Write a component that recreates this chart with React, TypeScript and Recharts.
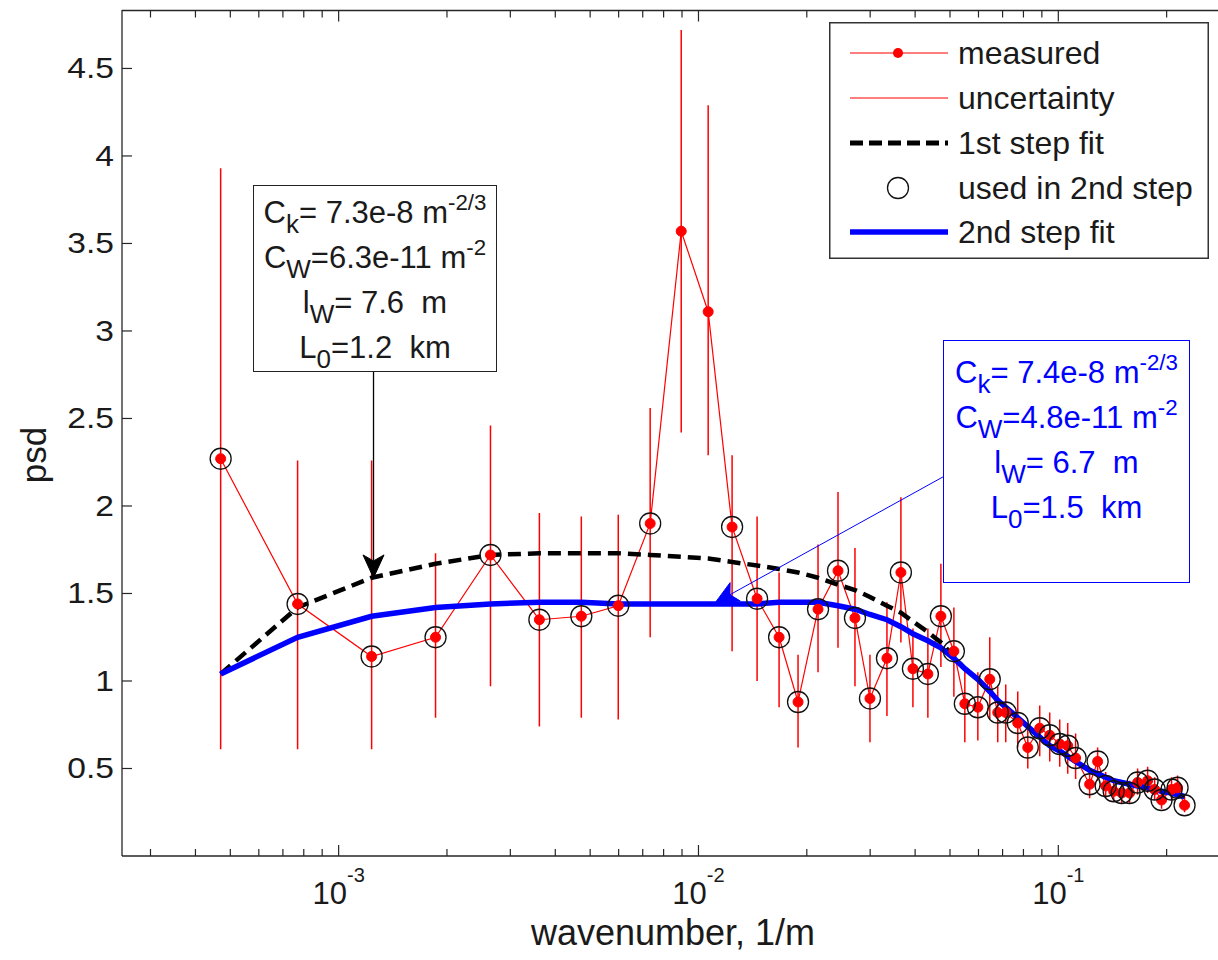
import React from 'react';
import { ComposedChart, Line, XAxis, YAxis, ErrorBar, ReferenceLine, Legend, Label } from 'recharts';

const FONT = '"Liberation Sans", Arial, Helvetica, sans-serif';

// ---- data ----
const wavenumber = [
  4.70e-4, 7.69e-4, 1.235e-3, 1.859e-3, 2.642e-3, 3.613e-3, 4.725e-3, 5.985e-3, 7.341e-3, 8.954e-3,
  1.064e-2, 1.240e-2, 1.455e-2, 1.675e-2, 1.891e-2, 2.149e-2, 2.442e-2, 2.722e-2, 2.996e-2, 3.340e-2,
  3.652e-2, 3.944e-2, 4.340e-2, 4.717e-2, 5.126e-2, 5.498e-2, 5.975e-2, 6.449e-2, 6.787e-2, 7.143e-2,
  7.714e-2, 8.225e-2, 8.878e-2, 9.465e-2, 0.1009, 0.1062, 0.1117, 0.1222, 0.1286, 0.1354,
  0.1425, 0.1500, 0.1578, 0.1661, 0.1771, 0.1852, 0.1936, 0.2064, 0.2145, 0.2243,
];
const psdMeasured = [
  2.27, 1.44, 1.14, 1.25, 1.72, 1.35, 1.37, 1.43, 1.90, 3.57,
  3.11, 1.88, 1.47, 1.25, 0.88, 1.41, 1.63, 1.36, 0.90, 1.13,
  1.62, 1.07, 1.04, 1.37, 1.17, 0.87, 0.85, 1.01, 0.82, 0.82,
  0.76, 0.62, 0.73, 0.69, 0.64, 0.63, 0.56, 0.41, 0.54, 0.40,
  0.37, 0.36, 0.36, 0.42, 0.43, 0.38, 0.32, 0.38, 0.39, 0.29,
];
const psdLower = [
  0.61, 0.61, 0.61, 0.79, 0.97, 0.74, 0.79, 0.78, 1.25, 2.42,
  2.29, 1.17, 1.00, 0.85, 0.62, 1.05, 1.19, 0.97, 0.65, 0.80,
  1.22, 0.85, 0.79, 1.08, 0.91, 0.65, 0.66, 0.78, 0.65, 0.65,
  0.62, 0.50, 0.57, 0.54, 0.51, 0.47, 0.44, 0.33, 0.43, 0.33,
  0.31, 0.30, 0.30, 0.35, 0.36, 0.32, 0.27, 0.32, 0.33, 0.25,
];
const psdUpper = [
  3.93, 2.26, 2.26, 1.73, 2.46, 1.96, 1.94, 1.95, 2.56, 4.72,
  4.29, 2.29, 1.94, 1.62, 1.15, 1.78, 2.08, 1.76, 1.15, 1.45,
  2.05, 1.30, 1.30, 1.67, 1.42, 1.06, 1.05, 1.25, 0.97, 0.98,
  0.94, 0.75, 0.86, 0.82, 0.78, 0.76, 0.70, 0.50, 0.62, 0.48,
  0.44, 0.43, 0.43, 0.50, 0.51, 0.45, 0.38, 0.45, 0.46, 0.34,
];
const fitStep1 = [
  1.04, 1.42, 1.59, 1.67, 1.72, 1.73, 1.73, 1.73, 1.72, 1.71,
  1.70, 1.68, 1.66, 1.64, 1.62, 1.59, 1.55, 1.52, 1.48, 1.43,
  1.39, 1.34, 1.28, 1.22, 1.14, 1.07, 1.01, 0.94, 0.89, 0.85,
  0.79, 0.74, 0.68, 0.63, 0.60, 0.57, 0.54, 0.49, 0.47, 0.45,
  0.43, 0.42, 0.41, 0.40, 0.39, 0.38, 0.37, 0.36, 0.35, 0.34,
];
const fitStep2 = [
  1.04, 1.25, 1.37, 1.42, 1.44, 1.45, 1.45, 1.44, 1.44, 1.44,
  1.44, 1.44, 1.44, 1.45, 1.45, 1.45, 1.43, 1.41, 1.38, 1.35,
  1.31, 1.27, 1.23, 1.19, 1.13, 1.07, 1.01, 0.94, 0.89, 0.85,
  0.79, 0.74, 0.68, 0.63, 0.60, 0.57, 0.54, 0.49, 0.47, 0.45,
  0.43, 0.42, 0.41, 0.40, 0.39, 0.38, 0.37, 0.36, 0.35, 0.34,
];
const excludedFromStep2 = [9, 10];

const xMajorTicks = [1e-3, 1e-2, 1e-1];
const xMinorTicks = [
  3e-4, 4e-4, 5e-4, 6e-4, 7e-4, 8e-4, 9e-4,
  2e-3, 3e-3, 4e-3, 5e-3, 6e-3, 7e-3, 8e-3, 9e-3,
  2e-2, 3e-2, 4e-2, 5e-2, 6e-2, 7e-2, 8e-2, 9e-2,
  2e-1, 3e-1,
];
const yTicks = [0.5, 1, 1.5, 2, 2.5, 3, 3.5, 4, 4.5];
const X_DOMAIN = [2.5e-4, 0.3];
const Y_DOMAIN = [0, 4.834];

// annotation arrows (data coordinates: [start, tip])
const arrowStep1 = [{ x: 1.25e-3, y: 2.766 }, { x: 1.25e-3, y: 1.589 }];
const arrowStep2 = [{ x: 0.0478, y: 2.166 }, { x: 0.01112, y: 1.446 }];

// axes box (pixels) — chart margins are derived from these
const BOX_LEFT = 122;
const BOX_TOP = 10;
const BOX_RIGHT = 1230;
const CHART_W = 1232;

const data = wavenumber.map((k, i) => ({
  k,
  psd: psdMeasured[i],
  err: [psdMeasured[i] - psdLower[i], psdUpper[i] - psdMeasured[i]],
  fit1: fitStep1[i],
  fit2: fitStep2[i],
  used: excludedFromStep2.includes(i) ? null : psdMeasured[i],
}));

const allXTicks = [...xMinorTicks, ...xMajorTicks].sort((a, b) => a - b);
const isMajor = (v: number) => Math.abs(Math.log10(v) - Math.round(Math.log10(v))) < 1e-6;
const AXIS = '#262626';

const BottomTick = (props: any) => {
  const { x, y, payload } = props;
  const v = payload.value;
  const major = isMajor(v);
  return (
    <g>
      <line x1={x} y1={y} x2={x} y2={y - (major ? 11 : 7)} stroke={AXIS} strokeWidth={1.2} />
      {major && (
        <text x={x} y={y + 48} textAnchor="middle" fontFamily={FONT} fontSize={31} fill="#1a1a1a">
          10
          <tspan dy={-22} fontSize={20}>{String(Math.round(Math.log10(v)))}</tspan>
        </text>
      )}
    </g>
  );
};
const LeftTick = (props: any) => {
  const { x, y, payload } = props;
  return (
    <g>
      <line x1={x} y1={y} x2={x + 10} y2={y} stroke={AXIS} strokeWidth={1.2} />
      <text
        x={0} y={0} textAnchor="end" fontFamily={FONT} fontSize={30} fill="#1a1a1a"
        transform={`translate(${x - 8},${y + 10}) scale(1.12,1)`}
      >
        {String(payload.value)}
      </text>
    </g>
  );
};

// top edge of the axes box with mirrored inward ticks (same log mapping as the x axis)
const TopFrame = () => {
  const l0 = Math.log10(X_DOMAIN[0]);
  const l1 = Math.log10(X_DOMAIN[1]);
  const px = (v: number) => BOX_LEFT + ((Math.log10(v) - l0) / (l1 - l0)) * (BOX_RIGHT - BOX_LEFT);
  const y = BOX_TOP + 0.5;
  return (
    <svg width={1218} height={960} style={{ position: 'absolute', left: 0, top: 0, pointerEvents: 'none' }}>
      <line x1={BOX_LEFT} y1={y} x2={BOX_RIGHT} y2={y} stroke={AXIS} strokeWidth={1.3} />
      {allXTicks.map((t) => (
        <line key={t} x1={px(t)} y1={y} x2={px(t)} y2={y + (isMajor(t) ? 11 : 7)} stroke={AXIS} strokeWidth={1.2} />
      ))}
    </svg>
  );
};

const makeArrow = (color: string, width: number) => (props: any) => {
  const { x1, y1, x2, y2 } = props;
  const ang = Math.atan2(y2 - y1, x2 - x1);
  const L = 23, W = 21, N = 17;
  const ca = Math.cos(ang), sa = Math.sin(ang);
  const bx = (d: number, s: number) => x2 - ca * d - sa * s;
  const by = (d: number, s: number) => y2 - sa * d + ca * s;
  const pts = [
    [x2, y2],
    [bx(L, W / 2), by(L, W / 2)],
    [bx(N, 0), by(N, 0)],
    [bx(L, -W / 2), by(L, -W / 2)],
  ].map((p) => p.join(',')).join(' ');
  return (
    <g>
      <line x1={x1} y1={y1} x2={bx(N, 0)} y2={by(N, 0)} stroke={color} strokeWidth={width} />
      <polygon points={pts} fill={color} stroke={color} strokeWidth={1} />
    </g>
  );
};

const CircleDot = (props: any) => {
  const { cx, cy, index } = props;
  if (cx == null || cy == null || isNaN(cx) || isNaN(cy)) return <g key={`c-${index}`} />;
  return <circle key={`c-${index}`} cx={cx} cy={cy} r={10.5} fill="none" stroke="#111" strokeWidth={1.3} />;
};

const legendRows = [
  { label: 'measured', y: 31 },
  { label: 'uncertainty', y: 76 },
  { label: '1st step fit', y: 121 },
  { label: 'used in 2nd step', y: 166 },
  { label: '2nd step fit', y: 210 },
];
const renderLegend = () => (
  <svg width={380} height={237} style={{ display: 'block' }}>
    <rect x={0.75} y={0.75} width={378.5} height={235.5} fill="#fff" stroke="#333" strokeWidth={1.5} />
    <line x1={21} y1={legendRows[0].y} x2={119} y2={legendRows[0].y} stroke="#ff0000" strokeWidth={1.2} />
    <circle cx={69} cy={legendRows[0].y} r={5} fill="#ff0000" />
    <line x1={21} y1={legendRows[1].y} x2={119} y2={legendRows[1].y} stroke="#ff0000" strokeWidth={1.2} />
    <line x1={21} y1={legendRows[2].y} x2={119} y2={legendRows[2].y} stroke="#000" strokeWidth={5} strokeDasharray="13 6" />
    <circle cx={69} cy={legendRows[3].y} r={10.5} fill="none" stroke="#111" strokeWidth={1.3} />
    <line x1={21} y1={legendRows[4].y} x2={119} y2={legendRows[4].y} stroke="#0000ff" strokeWidth={5.5} />
    {legendRows.map((r) => (
      <text key={r.label} x={129} y={r.y + 11} fontFamily={FONT} fontSize={32} fill="#1a1a1a">
        {r.label}
      </text>
    ))}
  </svg>
);

const subStyle: React.CSSProperties = { fontSize: '0.84em', verticalAlign: '-0.4em', lineHeight: 0 };
const supStyle: React.CSSProperties = { fontSize: '0.72em', verticalAlign: '0.6em', lineHeight: 0 };

const ParamBox = (p: { left: number; top: number; width: number; height: number; color: string; padTop: number; lines: [string, string, string, string, string][] }) => (
  <div
    style={{
      position: 'absolute', left: p.left, top: p.top, width: p.width, height: p.height,
      border: `1.5px solid ${p.color === '#000' ? '#222' : p.color}`, boxSizing: 'border-box', background: '#fff',
      fontFamily: FONT, fontSize: 31, color: p.color === '#000' ? '#1a1a1a' : p.color, textAlign: 'center',
      lineHeight: '45px', paddingTop: p.padTop, whiteSpace: 'pre', overflow: 'visible',
    }}
  >
    {p.lines.map(([a, sub, mid, b, sup], i) => (
      <div key={i} style={{ marginLeft: -10, marginRight: -10 }}>
        {a}<span style={subStyle}>{sub}</span>{mid}{b}{sup ? <span style={supStyle}>{sup}</span> : null}
      </div>
    ))}
  </div>
);

export default function App() {
  return (
    <div style={{ position: 'absolute', left: 0, top: 0, width: 1218, height: 960, background: '#fff', overflow: 'hidden' }}>
      <ComposedChart
        width={CHART_W} height={960} data={data}
        margin={{ top: BOX_TOP, right: CHART_W - BOX_RIGHT, bottom: 0, left: 0 }}
      >
        <XAxis
          dataKey="k" type="number" scale="log" domain={X_DOMAIN} allowDataOverflow
          ticks={allXTicks} interval={0} tick={<BottomTick />} tickLine={false} tickSize={0} tickMargin={0}
          height={104} axisLine={{ stroke: AXIS, strokeWidth: 1.3 }}
        >
          <Label
            content={(lp: any) => (
              <text x={673} y={lp.viewBox.y + 89} textAnchor="middle" fontFamily={FONT} fontSize={36} fill="#1a1a1a">
                wavenumber, 1/m
              </text>
            )}
          />
        </XAxis>
        <YAxis
          type="number" domain={Y_DOMAIN} ticks={yTicks} interval={0} allowDataOverflow
          tick={<LeftTick />} tickLine={false} tickSize={0} tickMargin={0} width={BOX_LEFT}
          axisLine={{ stroke: AXIS, strokeWidth: 1.3 }}
        >
          <Label
            content={() => (
              <text x={46} y={455} transform="rotate(-90 46 455)" textAnchor="middle" fontFamily={FONT} fontSize={35} fill="#1a1a1a">
                psd
              </text>
            )}
          />
        </YAxis>

        <Line
          type="linear" dataKey="psd" stroke="#ff0000" strokeWidth={1.2}
          dot={{ r: 5, fill: '#ff0000', stroke: '#ff0000', strokeWidth: 1 }} activeDot={false} isAnimationActive={false}
        >
          <ErrorBar dataKey="err" direction="y" width={0} stroke="#ff0000" strokeWidth={1.5} isAnimationActive={false} />
        </Line>
        <Line
          type="linear" dataKey="used" stroke="none" dot={CircleDot}
          activeDot={false} isAnimationActive={false} legendType="none"
        />
        <Line
          type="linear" dataKey="fit1" stroke="#000" strokeWidth={4.5}
          strokeDasharray="13 7" dot={false} activeDot={false} isAnimationActive={false}
        />
        <Line
          type="linear" dataKey="fit2" stroke="#0000ff" strokeWidth={5.5}
          dot={false} activeDot={false} isAnimationActive={false}
        />
        <ReferenceLine segment={arrowStep1} ifOverflow="visible" shape={makeArrow('#000', 1.3)} />
        <ReferenceLine segment={arrowStep2} ifOverflow="visible" shape={makeArrow('#0000ff', 1)} />
        <Legend
          layout="vertical" align="center" verticalAlign="middle" content={renderLegend}
          wrapperStyle={{ position: 'absolute', left: 829, top: 22, width: 380, height: 237 }}
        />
      </ComposedChart>

      <TopFrame />

      <ParamBox
        left={253} top={185} width={244} height={187} color="#000" padTop={4}
        lines={[
          ['C', 'k', '= 7.3e-8 ', 'm', '-2/3'],
          ['C', 'W', '=6.3e-11 ', 'm', '-2'],
          ['l', 'W', '= 7.6  m', '', ''],
          ['L', '0', '=1.2  km', '', ''],
        ]}
      />
      <ParamBox
        left={943} top={340} width={247} height={243} color="#0000ff" padTop={9}
        lines={[
          ['C', 'k', '= 7.4e-8 ', 'm', '-2/3'],
          ['C', 'W', '=4.8e-11 ', 'm', '-2'],
          ['l', 'W', '= 6.7  m', '', ''],
          ['L', '0', '=1.5  km', '', ''],
        ]}
      />
    </div>
  );
}
